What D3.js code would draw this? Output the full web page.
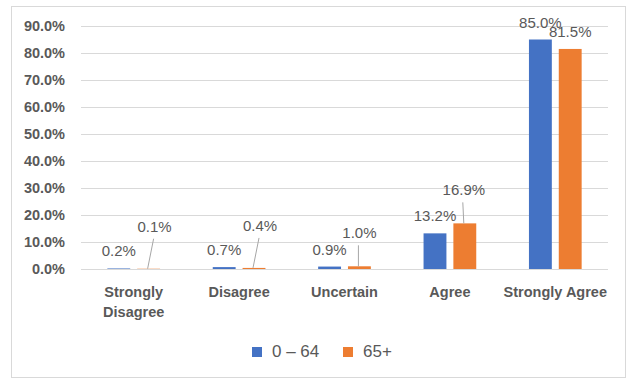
<!DOCTYPE html>
<html>
<head>
<meta charset="utf-8">
<script src="https://cdn.jsdelivr.net/npm/d3@7"></script>
<style>
  body { margin: 0; background: #fff; }
  svg { display: block; font-family: "Liberation Sans", Arial, sans-serif; }
</style>
</head>
<body>
<svg width="627" height="379"></svg>
<script>
var categories = ["Strongly Disagree", "Disagree", "Uncertain", "Agree", "Strongly Agree"];
var series = ["0 \u2013 64", "65+"];
var young = [0.2, 0.7, 0.9, 13.2, 85.0];
var old = [0.1, 0.4, 1.0, 16.9, 81.5];
var yTicks = [0, 10, 20, 30, 40, 50, 60, 70, 80, 90];

// label moves for the small orange values that get a leader line
var leaderShift = [[6, -37], [6, -37], [0, -28], [-1, -28], null];

var colors = ["#4472C4", "#ED7D31"];
var textColor = "#595959";

var svg = d3.select("svg");

svg.append("rect")
    .attr("x", 11.5).attr("y", 6.5)
    .attr("width", 614).attr("height", 371)
    .attr("fill", "#fff")
    .attr("stroke", "#d9d9d9");

var plotLeft = 81, plotRight = 608, plotTop = 26, plotBottom = 269;

var y = d3.scaleLinear().domain([0, 90]).range([plotBottom, plotTop]);

var x0 = d3.scaleBand().domain(categories).range([plotLeft, plotRight])
    .paddingInner(0.5).paddingOuter(0.25);
var x1 = d3.scaleBand().domain(series).range([0, x0.bandwidth()])
    .paddingInner(0.233);

// grid
var yAxis = d3.axisLeft(y).tickValues(yTicks)
    .tickSize(-(plotRight - plotLeft))
    .tickPadding(16)
    .tickFormat(function(d) { return d.toFixed(1) + "%"; });

var ga = svg.append("g")
    .attr("transform", "translate(" + plotLeft + ",0)")
    .call(yAxis);
ga.select(".domain").remove();
ga.selectAll(".tick line").attr("stroke", "#d9d9d9");
ga.selectAll(".tick text")
    .attr("fill", textColor)
    .attr("font-size", "14.5px")
    .attr("font-weight", "bold");

var rows = categories.map(function(c, i) {
    return { cat: c, i: i, vals: [young[i], old[i]] };
});

var groups = svg.append("g").selectAll("g")
    .data(rows)
    .enter().append("g")
    .attr("transform", function(d) { return "translate(" + x0(d.cat) + ",0)"; });

groups.selectAll("rect")
    .data(function(d) { return d.vals.map(function(v, k) { return { v: v, k: k }; }); })
    .enter().append("rect")
    .attr("x", function(d) { return x1(series[d.k]); })
    .attr("width", x1.bandwidth())
    .attr("y", function(d) { return y(d.v); })
    .attr("height", function(d) { return plotBottom - y(d.v); })
    .attr("fill", function(d) { return colors[d.k]; });

// data labels
groups.each(function(row) {
    var g = d3.select(this);
    row.vals.forEach(function(v, k) {
        var cx = x1(series[k]) + x1.bandwidth() / 2;
        var ty = y(v) - 12;
        var tx = cx;
        var shift = k === 1 ? leaderShift[row.i] : null;
        if (shift) {
            tx = cx + shift[0];
            ty = y(v) + shift[1];
            g.append("line")
                .attr("x1", tx - 1).attr("y1", ty + 7)
                .attr("x2", cx - 1).attr("y2", y(v))
                .attr("stroke", "#a6a6a6")
                .attr("stroke-width", 1);
        }
        g.append("text")
            .attr("x", tx).attr("y", ty)
            .attr("text-anchor", "middle")
            .attr("fill", textColor)
            .attr("font-size", "15px")
            .text(v.toFixed(1) + "%");
    });
});

// category labels
var xl = svg.append("g").selectAll("text")
    .data(categories)
    .enter().append("text")
    .attr("text-anchor", "middle")
    .attr("fill", textColor)
    .attr("font-size", "14.5px")
    .attr("font-weight", "bold")
    .attr("transform", function(d) { return "translate(" + (x0(d) + x0.bandwidth() / 2) + ",297)"; });

xl.each(function(d) {
    var t = d3.select(this);
    var parts = d === "Strongly Disagree" ? ["Strongly", "Disagree"] : [d];
    parts.forEach(function(p, i) {
        t.append("tspan").attr("x", 0).attr("dy", i ? 20 : 0).text(p);
    });
});

// legend
var legend = svg.append("g");
var legX = [252, 343];
series.forEach(function(s, k) {
    legend.append("rect")
        .attr("x", legX[k]).attr("y", 347)
        .attr("width", 10).attr("height", 10)
        .attr("fill", colors[k]);
    legend.append("text")
        .attr("x", legX[k] + 20).attr("y", 357)
        .attr("fill", textColor)
        .attr("font-size", "17px")
        .text(s);
});
</script>
</body>
</html>
